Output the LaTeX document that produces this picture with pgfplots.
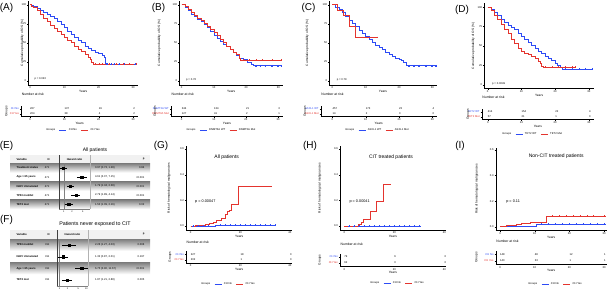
\documentclass[border=0pt]{standalone}
\usepackage{fontspec}
\setmainfont{Liberation Sans}
\usepackage{pgfplots}
\pgfplotsset{compat=1.18}
\definecolor{kmblue}{RGB}{45,75,245}
\definecolor{kmred}{RGB}{228,52,46}
\definecolor{shade}{RGB}{230,230,230}
\newcommand{\fs}[1]{\fontsize{#1}{#1}\selectfont}
\pgfplotsset{
  every axis/.append style={scale only axis, anchor=south west,
    axis x line*=bottom, axis y line*=left, tick align=outside,
    major tick length=1.2pt, every tick/.style={black,line width=0.3pt},
    axis line style={black,line width=0.35pt},
    tick label style={font=\fs{2.7},inner sep=0.8pt},
    label style={font=\fs{3.2},inner sep=0.6pt},
    /pgf/number format/assume math mode=true, clip=false},
  km/.style={ymin=-5,ymax=105,ytick={0,25,50,75,100},xtick={0,10,20,30},
    xlabel={Years},ylabel={Cumulative probability of OS (\%)},
    ylabel style={at={(axis description cs:#1,0.5)},anchor=center}},
  cif/.style={ymin=-0.03,ymax=0.62,ytick={0,0.2,0.4,0.6},
    yticklabel style={/pgf/number format/.cd,fixed,fixed zerofill,precision=1},
    xlabel={Years},ylabel={Risk of hematological malignancies},
    ylabel style={at={(axis description cs:#1,0.5)},anchor=center}},
  bl/.style={const plot,kmblue,line width=0.7pt,mark=none},
  rl/.style={const plot,kmred,line width=0.7pt,mark=none},
  cens/.style={only marks,mark=+,mark size=0.9pt,mark options={line width=0.3pt}},
  risk/.style={ymin=0.5,ymax=2.5,ytick={1,2},xlabel={Years},ylabel={Groups},
    ylabel style={at={(axis description cs:#1,0.5)},anchor=center},
    title={Number at risk},
    title style={at={(axis description cs:0,1)},anchor=south west,font=\fs{3.4},inner sep=0.5pt,yshift=4.5pt},
    legend style={draw=none,fill=none,font=\fs{2.7},legend columns=-1,inner sep=0pt,anchor=center,
      /tikz/every even column/.append style={column sep=2pt}},
    legend image code/.code={\draw[##1,line width=0.7pt] (0pt,0pt) -- (7pt,0pt);}},
  rv/.style={draw=none,mark=none,nodes near coords,point meta=explicit symbolic,
    nodes near coords style={anchor=west,font=\fs{2.7},inner sep=0pt,text=black},forget plot},
  hrplot/.style={axis y line=none,axis x line*=bottom,
    axis line style={gray,line width=0.3pt},tick label style={font=\fs{2.3}},major tick length=0.8pt},
}
\newcommand{\frow}[5]{%
  \node[anchor=west,font=\fs{2.7}\bfseries] at (13,#1) {#2};
  \node[anchor=east,font=\fs{2.7}] at (53,#1) {#3};
  \node[anchor=west,font=\fs{2.7}] at (91.5,#1) {#4};
  \node[anchor=east,font=\fs{2.7}] at (148,#1) {#5};}
\begin{document}
\begin{tikzpicture}
\begin{scope}[x=1pt,y=1pt]
\path[use as bounding box] (0,0) rectangle (607,291);
\node[font=\fs{10}] at (6.5,283) {(A)};
\node[font=\fs{10}] at (158.5,283) {(B)};
\node[font=\fs{10}] at (308.5,283) {(C)};
\node[font=\fs{10}] at (462,281) {(D)};
\node[font=\fs{10}] at (6.5,145) {(E)};
\node[font=\fs{10}] at (6.5,71) {(F)};
\node[font=\fs{10}] at (161,145) {(G)};
\node[font=\fs{10}] at (310,145) {(H)};
\node[font=\fs{10}] at (460,145) {(I)};
% ---- E table
\node[font=\fs{5}] at (95,141) {All patients};
\fill[shade!55] (10,127.55) rectangle (150,135.5);
\fill[shade] (10,118.45) rectangle (150,127.55);
\fill[shade] (10,100.25) rectangle (150,109.35);
\fill[shade] (10,82.05) rectangle (150,91.15);
\draw[black!75,line width=0.4pt] (59,82.05) -- (59,135.5);
\draw[gray!60,line width=0.3pt] (90.3,82.05) -- (90.3,135.5);
\node[anchor=west,font=\fs{2.7}\bfseries] at (13,131.5) {Variable};
\node[anchor=east,font=\fs{2.7}\bfseries] at (53,131.5) {N};
\node[font=\fs{2.7}\bfseries] at (74.6,131.5) {Hazard ratio};
\node[anchor=east,font=\fs{2.7}\bfseries] at (148,131.5) {p};
\frow{123}{Treatment status}{471}{0.97 (0.73, 1.28)}{0.84}
\frow{113.9}{Age > 65 years}{471}{4.61 (3.07, 7.15)}{<0.001}
\frow{104.8}{IGHV Unmutated}{471}{1.79 (1.34, 2.38)}{<0.001}
\frow{95.7}{TP53 mut/del}{471}{2.79 (1.89, 4.14)}{<0.001}
\frow{86.6}{TET2 mut}{471}{1.53 (1.09, 2.16)}{0.02}
% ---- F table
\node[font=\fs{5.3}] at (95,67) {Patients never exposed to CIT};
\fill[shade!55] (10,51.8) rectangle (150,61);
\fill[shade] (10,40.13) rectangle (150,51.8);
\fill[shade] (10,16.8) rectangle (150,28.47);
\draw[black!75,line width=0.4pt] (56.7,5.13) -- (56.7,61);
\draw[gray!60,line width=0.3pt] (88.3,5.13) -- (88.3,61);
\node[anchor=west,font=\fs{2.7}\bfseries] at (13,56.5) {Variable};
\node[anchor=east,font=\fs{2.7}\bfseries] at (53,56.5) {N};
\node[font=\fs{2.7}\bfseries] at (72.5,56.5) {Hazard ratio};
\node[anchor=east,font=\fs{2.7}\bfseries] at (148,56.5) {p};
\frow{46}{TP53 mut/del}{311}{2.26 (1.27, 4.03)}{0.006}
\frow{34.3}{IGHV Unmutated}{311}{1.32 (0.87, 2.01)}{0.197}
\frow{22.6}{Age > 65 years}{311}{6.75 (3.90, 11.67)}{<0.001}
\frow{11}{TET2 mut}{311}{1.87 (1.21, 2.88)}{0.005}
\end{scope}
% ===================== (A)
\begin{axis}[km=-0.055,at={(28.3pt,206.2pt)},width=109.9pt,height=83.9pt,xmin=-0.5,xmax=31.5]
\addplot[bl] coordinates {(0,100)(0.5,99)(1,98)(2,95)(3,92)(4,90)(5,87)(6,85)(7,82)(8,78)(9,74)(10,70)(11,65)(12,61)(13,57)(14,53)(15,50)(16,46)(17,43)(18,40)(19,37)(20,36)(21,34)(21.5,31)(22,23)(22.5,22)(31,22)};
\addplot[rl] coordinates {(0,100)(0.5,98)(1,97)(2,93)(3,88)(4,82)(5,78)(6,73)(7,69)(8,65)(9,61)(10,57)(11,53)(12,50)(13,46)(14,42)(15,39)(16,35)(17,31)(17.5,29)(18,25)(18.5,22)(31,22)};
\addplot[cens,kmblue] coordinates {(22.5,22)(23.5,22)(24.5,22)(26,22)(27.5,22)(29,22)(30.5,22)};
\addplot[cens,kmred] coordinates {(19,22)(20,22)(21,22)(23,22)(25,22)(27,22)(29,22)(31,22)};
\node[anchor=west,font=\fs{2.7}] at (axis cs:0.3,3) {p = 0.023};
\end{axis}
\begin{axis}[risk=-0.123,at={(21.1pt,174.5pt)},width=117.1pt,height=10pt,xmin=-2.6,xmax=31.5,xtick={0,10,20,30},
  yticklabels={\textcolor{kmred}{CH Yes},\textcolor{kmblue}{CH No}},
  legend style={at={(axis description cs:0.443,-1.42)}}]
\addlegendimage{empty legend}\addlegendentry{Groups}
\addlegendimage{kmblue}\addlegendentry{CH No}
\addlegendimage{kmred}\addlegendentry{CH Yes}
\addplot[rv] coordinates {(0,2)[267](10,2)[137](20,2)[19](30,2)[2](0,1)[204](10,1)[38](20,1)[4](30,1)[2]};
\end{axis}
% ===================== (B)
\begin{axis}[km=-0.193,at={(179.3pt,206.2pt)},width=103.8pt,height=83.9pt,xmin=-0.75,xmax=31.5]
\addplot[bl] coordinates {(0,100)(1,97)(2,93)(3,88)(4,85)(5,81)(6,78)(7,74)(8,70)(9,65)(10,60)(11,56)(12,52)(13,48)(14,45)(15,41)(16,37)(17,33)(18,30)(19,29)(20,28)(20.5,25)(21.5,22)(22.3,20)(31,20)};
\addplot[rl] coordinates {(0,100)(1,98)(2,94)(3,90)(4,86)(5,82)(6,79)(7,76)(8,72)(9,68)(10,64)(11,60)(12,55)(13,50)(14,46)(15,42)(16,38)(17,35)(17.8,30)(18.2,27)(31,27)};
\addplot[cens,kmblue] coordinates {(23,20)(24.5,20)(26,20)(28,20)(30,20)(31,20)};
\addplot[cens,kmred] coordinates {(19,27)(21,27)(23,27)(25,27)(28,27)(31,27)};
\node[anchor=west,font=\fs{2.7}] at (axis cs:0.3,2) {p = 0.76};
\end{axis}
\begin{axis}[risk=-0.143,at={(171pt,174.5pt)},width=112pt,height=10pt,xmin=-3.3,xmax=31.5,xtick={0,10,20,30},
  yticklabels={\textcolor{kmred}{DNMT3A Mut},\textcolor{kmblue}{DNMT3A WT}},
  legend style={at={(axis description cs:0.446,-1.42)}}]
\addlegendimage{empty legend}\addlegendentry{Groups}
\addlegendimage{kmblue}\addlegendentry{DNMT3A WT}
\addlegendimage{kmred}\addlegendentry{DNMT3A Mut}
\addplot[rv] coordinates {(0,2)[344](10,2)[134](20,2)[21](30,2)[3](0,1)[127](10,1)[41](20,1)[2](30,1)[1]};
\end{axis}
% ===================== (C)
\begin{axis}[km=-0.205,at={(329.3pt,206.2pt)},width=107.4pt,height=83.9pt,xmin=-0.9,xmax=31.3]
\addplot[bl] coordinates {(0,100)(1,97)(2,94)(3,90)(4,85)(5,80)(6,75)(7,71)(8,67)(9,62)(10,58)(11,55)(12,51)(13,47)(14,44)(15,42)(16,38)(17,35)(18,32)(18.8,30)(20,29)(20.8,27)(21.3,24)(22.1,20)(31,20)};
\addplot[rl] coordinates {(0,100)(1.5,93)(3.3,86)(5.1,71)(6.8,57)(13.5,57)};
\addplot[cens,kmblue] coordinates {(23,20)(24.5,20)(26,20)(28,20)(30,20)(31,20)};
\addplot[cens,kmred] coordinates {(9,57)(11,57)(13.5,57)};
\node[anchor=west,font=\fs{2.7}] at (axis cs:0.3,2) {p = 0.79};
\end{axis}
\begin{axis}[risk=-0.135,at={(320.7pt,174.5pt)},width=116pt,height=10pt,xmin=-3.5,xmax=31.3,xtick={0,10,20,30},
  yticklabels={\textcolor{kmred}{ASXL1 Mut},\textcolor{kmblue}{ASXL1 WT}},
  legend style={at={(axis description cs:0.485,-1.42)}}]
\addlegendimage{empty legend}\addlegendentry{Groups}
\addlegendimage{kmblue}\addlegendentry{ASXL1 WT}
\addlegendimage{kmred}\addlegendentry{ASXL1 Mut}
\addplot[rv] coordinates {(0,2)[457](10,2)[173](20,2)[23](30,2)[4](0,1)[14](10,1)[2](20,1)[0](30,1)[0]};
\end{axis}
% ===================== (D)
\begin{axis}[km=-0.1,at={(484.3pt,202.4pt)},width=109.7pt,height=85.2pt,xmin=-1,xmax=31.5]
\addplot[bl] coordinates {(0,100)(1,97)(2,93)(3,89)(4,85)(5,81)(6,77)(7,74)(8,71)(9,66)(10,62)(11,59)(12,55)(13,51)(14,47)(15,43)(16,40)(17,37)(18,34)(19,31)(20,27)(20.5,25)(21.5,22)(22,20)(31,20)};
\addplot[rl] coordinates {(0,100)(1,96)(2,90)(3,84)(4,78)(5,72)(6,66)(7,59)(8,53)(9,47)(10,43)(11,41)(12,39)(13,36)(14,34)(15,30)(15.5,27)(16,24)(16.5,23)(25.9,23)};
\addplot[cens,kmblue] coordinates {(23,20)(25,20)(27,20)(29,20)(31,20)};
\addplot[cens,kmred] coordinates {(17,23)(19,23)(21,23)(23,23)(25,23)(25.9,23)};
\node[anchor=west,font=\fs{2.7}] at (axis cs:0.3,1) {p = 0.0049};
\end{axis}
\begin{axis}[risk=-0.122,at={(481.7pt,171.5pt)},width=112.3pt,height=10pt,xmin=-1.8,xmax=31.5,xtick={0,10,20,30},
  yticklabels={\textcolor{kmred}{TET2 Mut},\textcolor{kmblue}{TET2 WT}},
  legend style={at={(axis description cs:0.45,-1.45)}}]
\addlegendimage{empty legend}\addlegendentry{Groups}
\addlegendimage{kmblue}\addlegendentry{TET2 WT}
\addlegendimage{kmred}\addlegendentry{TET2 Mut}
\addplot[rv] coordinates {(0,2)[414](10,2)[154](20,2)[22](30,2)[4](0,1)[57](10,1)[21](20,1)[1](30,1)[0]};
\end{axis}
% ===================== (E) forest
\begin{axis}[xmode=log,hrplot,at={(59pt,82.05pt)},width=31.3pt,height=45.5pt,xmin=0.67,xmax=9.5,ymin=0.5,ymax=5.5,
  xtick={1,2,5},xticklabels={1,2,5}]
\addplot[gray,line width=0.3pt] coordinates {(1,0.5)(1,5.5)};
\addplot[black,line width=0.4pt] coordinates {(0.73,5)(1.28,5)};
\addplot[black,line width=0.4pt] coordinates {(3.07,4)(7.15,4)};
\addplot[black,line width=0.4pt] coordinates {(1.34,3)(2.38,3)};
\addplot[black,line width=0.4pt] coordinates {(1.89,2)(4.14,2)};
\addplot[black,line width=0.4pt] coordinates {(1.09,1)(2.16,1)};
\addplot[only marks,mark=square*,mark size=1.1pt,black] coordinates {(0.97,5)(4.61,4)(1.79,3)(2.79,2)(1.53,1)};
\end{axis}
% ===================== (F) forest
\begin{axis}[xmode=log,hrplot,at={(56.7pt,5.13pt)},width=31.6pt,height=46.67pt,xmin=0.78,xmax=11.9,ymin=0.5,ymax=4.5,
  xtick={1,2,5,10},xticklabels={1,2,5,10}]
\addplot[gray,line width=0.3pt] coordinates {(1,0.5)(1,4.5)};
\addplot[black,line width=0.4pt] coordinates {(1.27,4)(4.03,4)};
\addplot[black,line width=0.4pt] coordinates {(0.87,3)(2.01,3)};
\addplot[black,line width=0.4pt] coordinates {(3.90,2)(11.67,2)};
\addplot[black,line width=0.4pt] coordinates {(1.21,1)(2.88,1)};
\addplot[only marks,mark=square*,mark size=1.1pt,black] coordinates {(2.26,4)(1.32,3)(6.75,2)(1.87,1)};
\end{axis}
% ===================== (G)
\begin{axis}[cif=-0.16,at={(186pt,61.1pt)},width=106.4pt,height=83.4pt,xmin=-1.9,xmax=41,xtick={0,20,40}]
\addplot[bl,line width=0.9pt] coordinates {(0,0)(9.8,0.008)(34,0.008)};
\addplot[rl,line width=0.9pt] coordinates {(0,0)(2,0.003)(4,0.008)(6,0.012)(7.5,0.02)(9,0.03)(10.5,0.045)(12.5,0.06)(14,0.09)(14.8,0.11)(15.5,0.125)(16.5,0.17)(19.2,0.31)(32.6,0.31)};
\addplot[cens,kmblue] coordinates {(1,0)(3,0)(5,0)(7,0)(12,0.008)(14,0.008)(16,0.008)(18,0.008)(20,0.008)(22,0.008)(24,0.008)(26,0.008)(28,0.008)(30,0.008)(32,0.008)(34,0.008)};
\node[font=\fs{5}] at (axis cs:14.5,0.54) {All patients};
\node[anchor=west,font=\fs{3.8}] at (axis cs:0.4,0.19) {p = 0.00047};
\end{axis}
\begin{axis}[risk=-0.15,at={(186pt,28.3pt)},width=106.4pt,height=11.4pt,xmin=-1.9,xmax=41,xtick={0,20,40},
  title style={yshift=-3pt},
  yticklabels={\textcolor{kmred}{CH Yes},\textcolor{kmblue}{CH No}},
  legend style={at={(axis description cs:0.395,-1.87)}}]
\addlegendimage{empty legend}\addlegendentry{Groups}
\addlegendimage{kmblue}\addlegendentry{CH No}
\addlegendimage{kmred}\addlegendentry{CH Yes}
\addplot[rv] coordinates {(0,2)[227](20,2)[18](40,2)[0](0,1)[202](20,1)[1](40,1)[0]};
\end{axis}
% ===================== (H)
\begin{axis}[cif=-0.19,at={(340pt,61.1pt)},width=105.8pt,height=83.4pt,xmin=-1.7,xmax=40.6,xtick={0,20,40}]
\addplot[bl,line width=0.9pt] coordinates {(0,0)(30.7,0)};
\addplot[rl,line width=0.9pt] coordinates {(0,0)(5.6,0.01)(6.8,0.03)(7.6,0.055)(10.3,0.115)(12.9,0.19)(15.6,0.325)(18.7,0.325)};
\addplot[cens,kmblue] coordinates {(2,0)(4,0)(6,0)(8,0)(10,0)(12,0)(14,0)(16,0)(18,0)(20,0)(22,0)(24,0)(26,0)(28,0)(30,0)};
\node[font=\fs{5}] at (axis cs:18.7,0.54) {CIT treated patients};
\node[anchor=west,font=\fs{3.8}] at (axis cs:0.7,0.19) {p = 0.00041};
\end{axis}
\begin{axis}[risk=-0.19,at={(340pt,25pt)},width=105.8pt,height=12pt,xmin=-1.7,xmax=40.6,xtick={0,20,40},
  title style={yshift=-3pt},
  yticklabels={\textcolor{kmred}{CH Yes},\textcolor{kmblue}{CH No}},
  legend style={at={(axis description cs:0.539,-1.42)}}]
\addlegendimage{empty legend}\addlegendentry{Groups}
\addlegendimage{kmblue}\addlegendentry{CH No}
\addlegendimage{kmred}\addlegendentry{CH Yes}
\addplot[rv] coordinates {(0,2)[79](20,2)[6](40,2)[0](0,1)[62](20,1)[0](40,1)[0]};
\end{axis}
% ===================== (I)
\begin{axis}[cif=-0.171,at={(495.7pt,60.5pt)},width=111.1pt,height=83pt,xmin=-1.24,xmax=30.8,xtick={0,10,20,30}]
\addplot[bl,line width=0.9pt] coordinates {(0,0)(2,0.003)(10.6,0.018)(30.6,0.018)};
\addplot[rl,line width=0.9pt] coordinates {(0,0)(1.9,0.013)(4.8,0.021)(6.2,0.026)(8.7,0.034)(13.5,0.081)(30.6,0.081)};
\addplot[cens,kmblue] coordinates {(12,0.018)(14,0.018)(16,0.018)(18,0.018)(20,0.018)(22,0.018)(24,0.018)(26,0.018)(28,0.018)(30,0.018)};
\addplot[cens,kmred] coordinates {(15,0.081)(17,0.081)(19,0.081)(21,0.081)(23,0.081)(25,0.081)(27,0.081)(30,0.081)};
\node[font=\fs{5}] at (axis cs:16.2,0.55) {Non-CIT treated patients};
\node[anchor=west,font=\fs{3.8}] at (axis cs:0.8,0.196) {p = 0.11};
\end{axis}
\begin{axis}[risk=-0.171,at={(495.7pt,27pt)},width=111.1pt,height=13pt,xmin=-1.24,xmax=30.8,xtick={0,10,20,30},
  title style={yshift=-3pt},
  yticklabels={\textcolor{kmred}{CH Yes},\textcolor{kmblue}{CH No}},
  legend style={at={(axis description cs:0.534,-1.56)}}]
\addlegendimage{empty legend}\addlegendentry{Groups}
\addlegendimage{kmblue}\addlegendentry{CH No}
\addlegendimage{kmred}\addlegendentry{CH Yes}
\addplot[rv] coordinates {(0,2)[148](10,2)[48](20,2)[12](30,2)[1](0,1)[140](10,1)[33](20,1)[1](30,1)[1]};
\end{axis}
\end{tikzpicture}
\end{document}
